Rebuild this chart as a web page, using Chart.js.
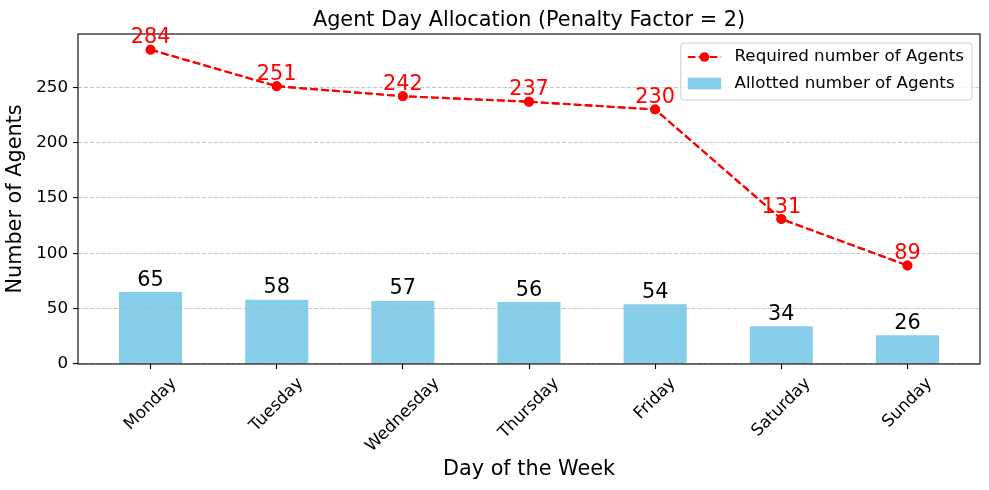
<!DOCTYPE html>
<html><head><meta charset="utf-8">
<script src="https://cdn.jsdelivr.net/npm/chart.js@4.4.1/dist/chart.umd.min.js"></script>
<style>html,body{margin:0;padding:0;background:#fff;}canvas{display:block;}</style>
</head><body>
<canvas id="c" width="989" height="490"></canvas>
<script>
// ---- data ----
const days = ['Monday', 'Tuesday', 'Wednesday', 'Thursday', 'Friday', 'Saturday', 'Sunday'];
const allotted = [65, 58, 57, 56, 54, 34, 26];
const required = [284, 251, 242, 237, 230, 131, 89];
const yTickValues = [0, 50, 100, 150, 200, 250];
const seriesNames = ['Required number of Agents', 'Allotted number of Agents'];
const chartTitle = 'Agent Day Allocation (Penalty Factor = 2)';
const xTitle = 'Day of the Week';
const yTitle = 'Number of Agents';

// ---- styling ----
const FONT = "'DejaVu Sans', sans-serif";
const BIG = 20.8, SMALL = 16.7;
const BAR_COLOR = '#87CEEB', LINE_COLOR = '#ff0000';
Chart.defaults.font.family = FONT;
Chart.defaults.color = '#000';

// axis limits like matplotlib autoscale (5% margins)
const barHalf = 0.25;
const xSpan = (days.length - 1) + 2 * barHalf;
const xMin = -barHalf - 0.05 * xSpan, xMax = days.length - 1 + barHalf + 0.05 * xSpan;
const yMax = Math.max(...required) * 1.05;

const barData = allotted.map((v, i) => ({x: i, y: v}));
const lineData = required.map((v, i) => ({x: i, y: v}));

function drawAll(chart) {
  const ctx = chart.ctx, a = chart.chartArea;
  // redraw line above grid
  chart.getDatasetMeta(1).controller.draw();
  ctx.save();
  // frame
  ctx.strokeStyle = '#000'; ctx.lineWidth = 1.1; ctx.setLineDash([]);
  ctx.strokeRect(a.left, a.top, a.right - a.left, a.bottom - a.top);
  // data labels
  ctx.font = BIG + 'px ' + FONT; ctx.textAlign = 'center'; ctx.textBaseline = 'alphabetic';
  chart.getDatasetMeta(0).data.forEach((el, i) => { ctx.fillStyle = '#000'; ctx.fillText(String(allotted[i]), el.x, el.y - 6.5); });
  chart.getDatasetMeta(1).data.forEach((el, i) => { ctx.fillStyle = LINE_COLOR; ctx.fillText(String(required[i]), el.x, el.y - 6.5); });
  // title
  ctx.fillStyle = '#000';
  ctx.fillText(chartTitle, (a.left + a.right) / 2, a.top - 8);
  // x tick labels rotated 45 deg, centered on tick
  ctx.font = SMALL + 'px ' + FONT; ctx.textBaseline = 'middle';
  const xs = chart.scales.x;
  days.forEach((d, i) => {
    const w = ctx.measureText(d).width, h = SMALL * 1.164;
    const H = (w + h) * Math.SQRT1_2;
    const cx = xs.getPixelForValue(i), cy = a.bottom + 10 + H / 2;
    ctx.save(); ctx.translate(cx, cy); ctx.rotate(-Math.PI / 4);
    ctx.fillText(d, 0, 0); ctx.restore();
  });
  // legend
  ctx.font = SMALL + 'px ' + FONT;
  const tw = Math.max(...seriesNames.map(s => ctx.measureText(s).width));
  const handle = 2 * SMALL, gap = 0.8 * SMALL;
  const bw = 7 + handle + gap + tw + 8, bh = 57;
  const bx = a.right - 8 - bw, by = a.top + 9, r = 3.3;
  ctx.beginPath();
  ctx.moveTo(bx + r, by); ctx.lineTo(bx + bw - r, by); ctx.arcTo(bx + bw, by, bx + bw, by + r, r);
  ctx.lineTo(bx + bw, by + bh - r); ctx.arcTo(bx + bw, by + bh, bx + bw - r, by + bh, r);
  ctx.lineTo(bx + r, by + bh); ctx.arcTo(bx, by + bh, bx, by + bh - r, r);
  ctx.lineTo(bx, by + r); ctx.arcTo(bx, by, bx + r, by, r); ctx.closePath();
  ctx.fillStyle = 'rgba(255,255,255,0.8)'; ctx.fill();
  ctx.strokeStyle = '#cccccc'; ctx.lineWidth = 1; ctx.stroke();
  const hx = bx + 7, row1 = by + 14, row2 = by + 40.5;
  ctx.strokeStyle = LINE_COLOR; ctx.lineWidth = 2.08; ctx.setLineDash([7.7, 3.3]);
  ctx.beginPath(); ctx.moveTo(hx, row1); ctx.lineTo(hx + handle, row1); ctx.stroke();
  ctx.setLineDash([]);
  ctx.fillStyle = LINE_COLOR; ctx.beginPath(); ctx.arc(hx + handle / 2, row1, 4.8, 0, Math.PI * 2); ctx.fill();
  ctx.fillStyle = BAR_COLOR; ctx.fillRect(hx, row2 - 0.35 * SMALL, handle, 0.7 * SMALL);
  ctx.fillStyle = '#000'; ctx.textAlign = 'left'; ctx.textBaseline = 'middle';
  ctx.fillText(seriesNames[0], hx + handle + gap, row1);
  ctx.fillText(seriesNames[1], hx + handle + gap, row2);
  ctx.restore();
}

new Chart(document.getElementById('c'), {
  type: 'bar',
  data: {
    datasets: [
      {type: 'bar', label: seriesNames[1], data: barData, backgroundColor: BAR_COLOR, borderWidth: 0,
       barPercentage: 0.5, categoryPercentage: 1.0},
      {type: 'line', label: seriesNames[0], data: lineData, borderColor: LINE_COLOR, backgroundColor: LINE_COLOR,
       borderWidth: 2.08, borderDash: [7.7, 3.3], pointRadius: 4.2, pointBorderWidth: 1.4,
       pointBackgroundColor: LINE_COLOR, pointBorderColor: LINE_COLOR, tension: 0, fill: false}
    ]
  },
  options: {
    responsive: false, animation: false, devicePixelRatio: 1,
    layout: {padding: {top: 34, right: 9, left: 0, bottom: 0}},
    plugins: {legend: {display: false}, tooltip: {enabled: false}, title: {display: false}},
    scales: {
      x: {
        type: 'linear', min: xMin, max: xMax, offset: false,
        afterBuildTicks: s => { s.ticks = days.map((d, i) => ({value: i})); },
        afterFit: s => { s.height = 126; },
        ticks: {display: false},
        grid: {offset: false, drawOnChartArea: false, drawTicks: true, tickLength: 5, tickColor: '#000', tickWidth: 1.1},
        border: {display: false},
        title: {display: true, text: xTitle, font: {size: BIG}, color: '#000', padding: {top: 0, bottom: 8}}
      },
      y: {
        type: 'linear', min: 0, max: yMax,
        afterBuildTicks: s => { s.ticks = yTickValues.map(v => ({value: v})); },
        afterFit: s => { s.width = 78; },
        ticks: {font: {size: SMALL}, color: '#000', padding: 5},
        grid: {z: 1, color: 'rgba(176,176,176,0.7)', lineWidth: 1.1, drawTicks: true, tickLength: 5,
               tickColor: '#000', tickWidth: 1.1, tickBorderDash: []},
        border: {display: false, dash: [4.1, 1.8]},
        title: {display: true, text: yTitle, font: {size: BIG}, color: '#000', padding: {top: 3, bottom: 0}}
      }
    }
  },
  plugins: [{id: 'mplExtras', afterDraw: drawAll}]
});
</script>
</body></html>
